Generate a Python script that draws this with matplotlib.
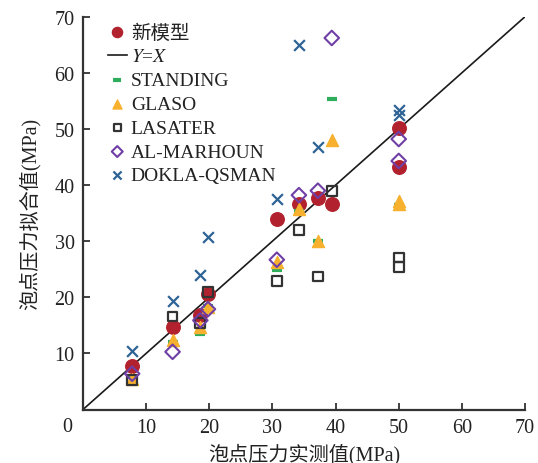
import matplotlib
matplotlib.use("Agg")
import matplotlib.pyplot as plt
import numpy as np

plt.rcParams['font.family'] = ['Liberation Serif', 'Noto Sans CJK SC']
plt.rcParams['mathtext.fontset'] = 'stix'

# measured bubble point pressure (MPa)
measured = [7.8, 14.2, 18.6, 19.8, 30.7, 34.2, 37.2, 39.4, 50.0, 50.0]

# fitted values of each correlation
new_model = [7.8, 14.7, 16.9, 20.6, 34.0, 36.7, 37.7, 36.7, 50.1, 43.3]
standing = [5.9, 12.1, 13.5, 18.5, 24.8, 35.3, 30.1, 55.3, 36.5, 36.5]
glaso = [5.4, 12.4, 14.8, 18.3, 26.3, 35.7, 30.1, 48.0, 37.2, 36.6]
lasater = [5.3, 16.6, 15.4, 20.9, 22.9, 32.0, 23.7, 38.9, 27.1, 25.4]
al_marhoun = [6.4, 10.3, 15.9, 17.9, 26.7, 38.2, 39.0, 66.2, 48.2, 44.3]
dokla = [10.5, 19.3, 24.0, 30.7, 37.5, 64.9, 46.8, np.nan, 53.3, 52.4]

ticks = list(range(0, 71, 10))


def main():
    fig = plt.figure(figsize=(5.38, 4.64), dpi=100)
    ax = fig.add_axes([0.154, 0.115, 0.822, 0.847])

    ax.scatter(measured, new_model, s=95, marker='o', color='#B2222E',
               label='新模型', zorder=3)
    ax.plot([0, 70], [0, 70], color='#1a1a1a', lw=1.2, label='$Y$=$X$', zorder=2)
    ax.scatter(measured, standing, s=60, marker='_', color='#2EAD5B',
               linewidths=3, label='STANDING', zorder=3)
    ax.scatter(measured, glaso, s=75, marker='^', color='#F7B12E',
               label='GLASO', zorder=3)
    ax.scatter(measured, lasater, s=50, marker='s', facecolors='none',
               edgecolors='#333333', linewidths=1.6, label='LASATER', zorder=3)
    ax.scatter(measured, al_marhoun, s=55, marker='D', facecolors='none',
               edgecolors='#6F3FA6', linewidths=1.5, label='AL-MARHOUN', zorder=3)
    ax.scatter(measured, dokla, s=60, marker='x', color='#2E6395',
               linewidths=1.6, label='DOKLA-QSMAN', zorder=3)

    ax.set_xlim(0, 70)
    ax.set_ylim(0, 70)
    ax.set_xticks(ticks)
    ax.set_yticks(ticks)
    # one shared "0" at the origin, like the original
    ax.set_xticklabels([''] + [str(t) for t in ticks[1:]])
    ax.set_yticklabels([''] + [str(t) for t in ticks[1:]])
    ax.text(-0.035, -0.018, '0', transform=ax.transAxes, fontsize=14.5,
            color='#222222', ha='center', va='top')

    for side in ['top', 'right']:
        ax.spines[side].set_visible(False)
    for side in ['left', 'bottom']:
        ax.spines[side].set_linewidth(1.6)
        ax.spines[side].set_color('#333333')
    ax.tick_params(direction='in', length=5, width=1.3, color='#333333',
                   labelsize=14.5, labelcolor='#222222', pad=6)

    ax.set_xlabel('泡点压力实测值(MPa)', fontsize=14.5, color='#222222', labelpad=4)
    ax.set_ylabel('泡点压力拟合值(MPa)', fontsize=14.5, color='#222222', labelpad=10)

    ax.legend(loc='upper left', frameon=False, fontsize=14, handlelength=1.0,
              handletextpad=0.2, labelspacing=0.32, borderaxespad=0.3,
              markerscale=0.75, bbox_to_anchor=(0.025, 1.018),
              labelcolor='#222222')

    fig.savefig('out.png', dpi=100)


if __name__ == "__main__":
    main()
